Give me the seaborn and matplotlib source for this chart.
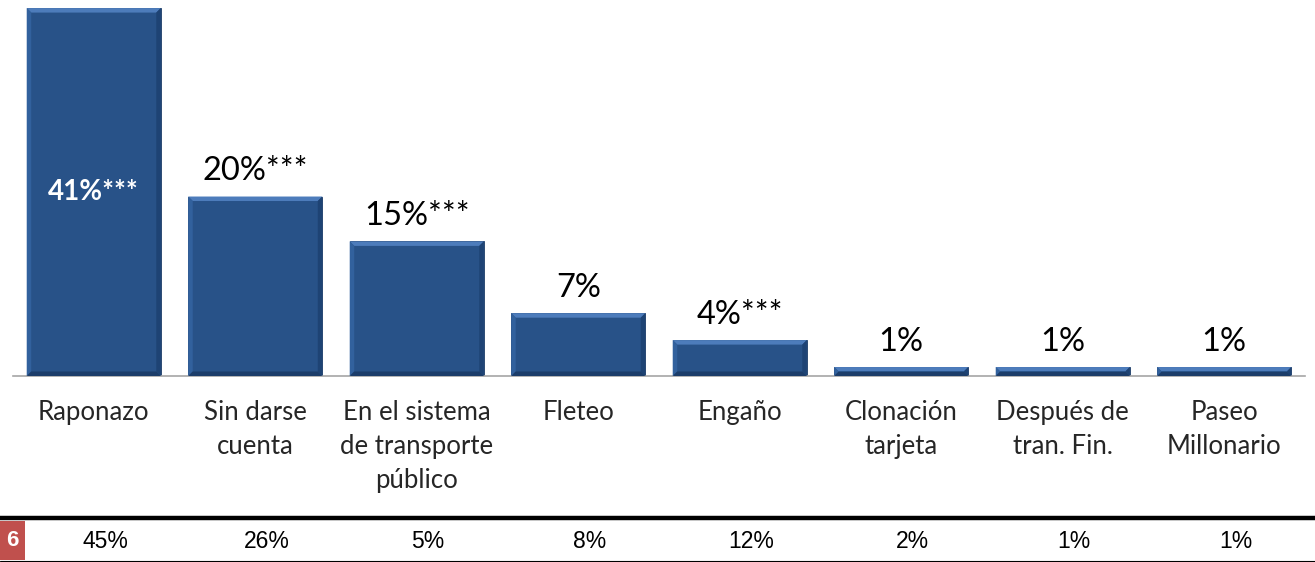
import numpy as np
import pandas as pd
import matplotlib
matplotlib.use("Agg")
import matplotlib.pyplot as plt
import seaborn as sns
from matplotlib.patches import Polygon

categorias = ["Raponazo", "Sin darse\ncuenta", "En el sistema\nde transporte\npúblico",
              "Fleteo", "Engaño", "Clonación\ntarjeta", "Después de\ntran. Fin.", "Paseo\nMillonario"]
valores = [41, 20, 15, 7, 4, 1, 1, 1]
etiquetas = ["41%***", "20%***", "15%***", "7%", "4%***", "1%", "1%", "1%"]
anterior = ["45%", "26%", "5%", "8%", "12%", "2%", "1%", "1%"]
anio_celda = "6"

df = pd.DataFrame({"cat": categorias, "val": valores})

sns.set_style("white")
plt.rcParams["font.family"] = ["Lato", "DejaVu Sans"]

W, H = 1315, 562
fig = plt.figure(figsize=(W / 100, H / 100), dpi=100)
ax = fig.add_axes([13 / W, 1 - 376 / H, 1292 / W, 376 / H])

azul = "#285288"
sns.barplot(data=df, x="cat", y="val", color=azul, width=0.83, saturation=1,
            edgecolor="#1d3d68", linewidth=0.6, ax=ax)
ax.set_ylim(0, 41.9)
ax.set_xlim(-0.5, len(categorias) - 0.5)

# bevel look
fig.canvas.draw()
inv = fig.transFigure.inverted()
b = 4.5
for p in ax.patches:
    x0, y0 = ax.transData.transform((p.get_x(), 0))
    x1, y1 = ax.transData.transform((p.get_x() + p.get_width(), p.get_height()))
    bb = min(b, (y1 - y0) / 2.2)
    pts = {
        "top": [(x0, y1), (x1, y1), (x1 - bb, y1 - bb), (x0 + bb, y1 - bb)],
        "left": [(x0, y0), (x0, y1), (x0 + bb, y1 - bb), (x0 + bb, y0 + bb)],
        "right": [(x1, y0), (x1, y1), (x1 - bb, y1 - bb), (x1 - bb, y0 + bb)],
        "bottom": [(x0, y0), (x1, y0), (x1 - bb, y0 + bb), (x0 + bb, y0 + bb)],
    }
    cols = {"top": "#4d7cbb", "left": "#32619d", "right": "#1e4374", "bottom": "#1c3d6a"}
    for k, v in pts.items():
        poly = Polygon(inv.transform(v), closed=True, facecolor=cols[k], edgecolor="none",
                       transform=fig.transFigure, zorder=3)
        fig.add_artist(poly)

# value labels
for i, (v, t) in enumerate(zip(valores, etiquetas)):
    if i == 0:
        ax.text(i, v / 2, t, ha="center", va="center", color="white",
                fontsize=20, fontweight="bold", zorder=5)
    else:
        ax.annotate(t, (i, v), xytext=(0, 7.5), textcoords="offset points",
                    ha="center", va="bottom", fontsize=23.5, color="black")

# axes styling
for s in ["top", "left", "right"]:
    ax.spines[s].set_visible(False)
ax.spines["bottom"].set_color("#a6a6a6")
ax.spines["bottom"].set_linewidth(1.2)
ax.set_yticks([])
ax.set_xlabel("")
ax.set_ylabel("")
ax.set_xticks(np.arange(len(categorias)))
ax.set_xticklabels(categorias, fontsize=18.5, linespacing=1.47, va="top")
ax.tick_params(axis="x", which="major", length=0, pad=17)
ax.set_xticks(np.arange(len(categorias) + 1) - 0.5, minor=True)
ax.tick_params(axis="x", which="minor", length=7, width=1.2, color="#a6a6a6")

# bottom table row
fig.add_artist(plt.Line2D([0, 1], [1 - 518 / H, 1 - 518 / H], color="black", lw=3.2))
fig.add_artist(plt.Line2D([0, 1], [1 - 560.5 / H, 1 - 560.5 / H], color="black", lw=0.8))
fig.add_artist(plt.Rectangle((0, 1 - 560 / H), 25 / W, 39 / H, facecolor="#c0504d",
                             edgecolor="none", transform=fig.transFigure))
fig.text(12 / W, 1 - 541 / H, anio_celda, ha="center", va="center", color="white",
         fontsize=16, fontweight="bold", family=["Liberation Sans"])
ty = 1 - 541 / H
for i, t in enumerate(anterior):
    xf = inv.transform(ax.transData.transform((i + 0.07, 0)))[0]
    fig.text(xf, ty, t, ha="center", va="center", fontsize=16.5,
             family=["Liberation Sans"], color="black")

fig.savefig("out.png", dpi=100)
